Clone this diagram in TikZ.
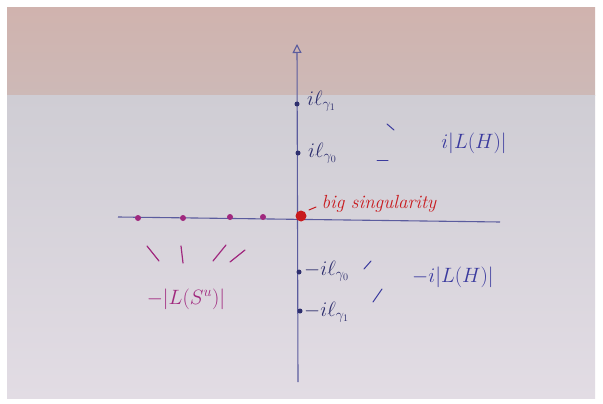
\documentclass[tikz,border=0pt]{standalone}
\usetikzlibrary{arrows.meta}
\definecolor{axiscol}{HTML}{5B5C9E}
\definecolor{dotcol}{HTML}{2E2F6E}
\definecolor{purp}{HTML}{A0287E}
\definecolor{redc}{HTML}{C81A1E}
\definecolor{bluec}{HTML}{3A3A9E}
\definecolor{topA}{HTML}{D0B3AE}
\definecolor{topB}{HTML}{CDB9B7}
\definecolor{botA}{HTML}{CFCDD4}
\definecolor{botB}{HTML}{E2DCE4}
\tikzset{
  axisline/.style={draw=axiscol, line width=1.1pt},
  dotnode/.style={circle, fill=dotcol, inner sep=0pt, minimum size=5pt},
  pdot/.style={circle, fill=purp, inner sep=0pt, minimum size=6pt},
  reddot/.style={circle, fill=redc, inner sep=0pt, minimum size=11pt},
  vlabel/.style={anchor=west, text=dotcol, font=\fontsize{20}{24}\selectfont, inner sep=1pt},
  bluelab/.style={text=bluec, font=\fontsize{21}{25}\selectfont},
  purplab/.style={text=purp, font=\fontsize{21}{25}\selectfont},
  tickb/.style={draw=bluec, line width=1pt, line cap=round},
  tickp/.style={draw=purp, line width=1.2pt, line cap=round}
}
\begin{document}
\begin{tikzpicture}[x=1pt,y=-1pt]
\useasboundingbox (0,0) rectangle (603,404);
\fill[white] (0,0) rectangle (603,404);
\shade[top color=topA, bottom color=topB] (7,8) rectangle (595,96);
\shade[top color=botA, bottom color=botB] (7,96) rectangle (595,398);
% axes
\coordinate (xl) at (118,217);
\coordinate (xr) at (500,222);
\coordinate (yb) at (298,382);
\coordinate (yt) at (297,44);
\draw[axisline] (xl) -- (xr);
\draw[axisline, -{Triangle[open, length=9pt, width=9pt]}] (yb) -- (yt);
% vertical points
\node[dotnode] (g1) at (297,104) {};
\node[dotnode] (g0) at (298,153) {};
\node[dotnode] (mg0) at (299,272) {};
\node[dotnode] (mg1) at (300,311) {};
\node[reddot] (o) at (301,216) {};
% horizontal points
\node[pdot] (h1) at (138,218) {};
\node[pdot] (h2) at (183,218) {};
\node[pdot] (h3) at (230,217) {};
\node[pdot] (h4) at (263,217) {};
% vertical labels
\node[vlabel] (lg1) at (306,101) {$i\ell_{\gamma_1}$};
\node[vlabel] (lg0) at (307,153) {$i\ell_{\gamma_0}$};
\node[vlabel] (lmg0) at (303,271) {$-i\ell_{\gamma_0}$};
\node[vlabel] (lmg1) at (303,312) {$-i\ell_{\gamma_1}$};
% big singularity
\node[text=redc, font=\fontsize{19}{23}\selectfont\itshape, anchor=west] (bs) at (318,204) {big singularity};
\coordinate (bsa) at (309,210);
\coordinate (bsb) at (316,207);
\draw[redc, line width=1pt, line cap=round] (bsa) -- (bsb);
% blue labels and ticks
\node[bluelab] (ilh) at (474,143) {$i|L(H)|$};
\node[bluelab] (milh) at (453,277) {$-i|L(H)|$};
\coordinate (t1a) at (387,124);
\coordinate (t1b) at (394,130);
\coordinate (t2a) at (377,160);
\coordinate (t2b) at (388,160);
\coordinate (t3a) at (364,269);
\coordinate (t3b) at (371,261);
\coordinate (t4a) at (373,302);
\coordinate (t4b) at (382,289);
\draw[tickb] (t1a) -- (t1b);
\draw[tickb] (t2a) -- (t2b);
\draw[tickb] (t3a) -- (t3b);
\draw[tickb] (t4a) -- (t4b);
% purple ticks and label
\coordinate (p1a) at (147,246);
\coordinate (p1b) at (159,261);
\coordinate (p2a) at (181,246);
\coordinate (p2b) at (183,263);
\coordinate (p3a) at (226,245);
\coordinate (p3b) at (213,261);
\coordinate (p4a) at (245,250);
\coordinate (p4b) at (230,262);
\draw[tickp] (p1a) -- (p1b);
\draw[tickp] (p2a) -- (p2b);
\draw[tickp] (p3a) -- (p3b);
\draw[tickp] (p4a) -- (p4b);
\node[purplab] (ls) at (186,299) {$-|L(S^u)|$};
\end{tikzpicture}
\end{document}
